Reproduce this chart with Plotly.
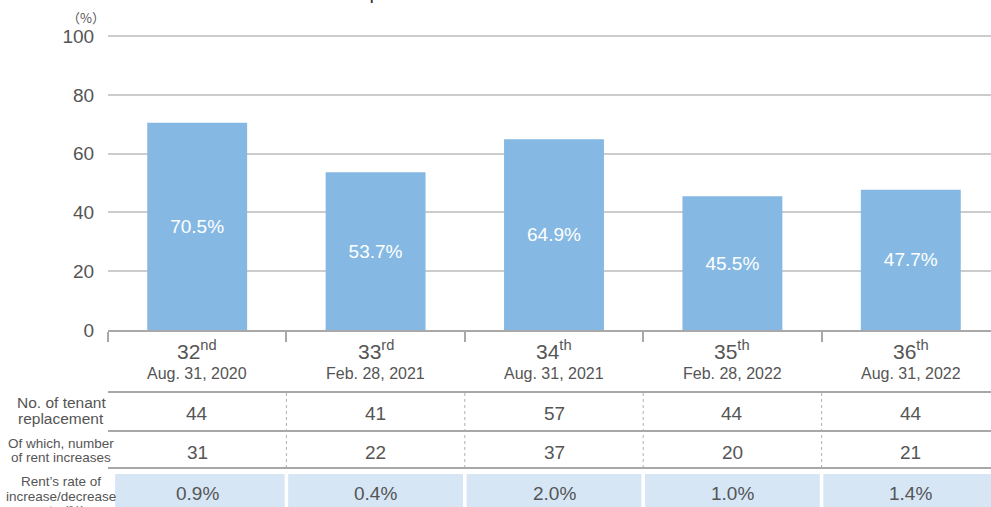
import plotly.graph_objects as go

# --- data -----------------------------------------------------------------
ordinals = ["32", "33", "34", "35", "36"]
suffixes = ["nd", "rd", "th", "th", "th"]
dates = ["Aug. 31, 2020", "Feb. 28, 2021", "Aug. 31, 2021", "Feb. 28, 2022", "Aug. 31, 2022"]
ratio_pct = [70.5, 53.7, 64.9, 45.5, 47.7]          # ratio of rent increase (%)
tenant_replacements = [44, 41, 57, 44, 44]
rent_increases = [31, 22, 37, 20, 21]
rent_rate_pct = [0.9, 0.4, 2.0, 1.0, 1.4]

title_text = "● Ratio of rent increase due to tenant replacements and rate of increase"

# --- styling ----------------------------------------------------------------
BAR = "#85b9e3"
CELL = "#d6e6f5"
TXT = "#555555"
GRID = "#cccccc"
RULE = "#a8a8a8"
FONT = "Liberation Sans, Arial, sans-serif"

W, H = 991, 507
TOP, BOTTOM, LEFT = 35, 330, 108


def py(pix):
    """pixel row -> paper y (paper 0/1 = bottom/top of the bar area)"""
    return (BOTTOM - pix) / (BOTTOM - TOP)


def px(pix):
    return (pix - LEFT) / (W - LEFT)


n = len(ratio_pct)
idx = list(range(n))
cats = [f"{o}{s}" for o, s in zip(ordinals, suffixes)]

fig = go.Figure()
fig.add_trace(go.Bar(
    x=cats, y=ratio_pct, width=0.56,
    marker=dict(color=BAR, line=dict(width=0)),
    text=[f"{v:.1f}%" for v in ratio_pct],
    textposition="inside", insidetextanchor="middle",
    textfont=dict(color="white", size=19, family=FONT),
    hoverinfo="skip",
))

ann = []
shapes = []


def note(x, y, text, size, xref="x", family=FONT, color=TXT, **kw):
    ann.append(dict(x=x, y=y, xref=xref, yref="paper", text=text, showarrow=False,
                    xanchor=kw.pop("xanchor", "center"), yanchor=kw.pop("yanchor", "middle"),
                    font=dict(size=size, color=color, family=family), **kw))


# category header (ordinal + date)
for i in idx:
    note(i, py(350), f"{ordinals[i]}<sup>{suffixes[i]}</sup>", 21)
    note(i, py(373), dates[i], 16)

# table rows
rows = [
    (tenant_replacements, lambda v: f"{v}", py(413)),
    (rent_increases, lambda v: f"{v}", py(452)),
    (rent_rate_pct, lambda v: f"{v:.1f}%", py(493)),
]
for vals, fmt, yy in rows:
    for i in idx:
        note(i, yy, fmt(vals[i]), 19)

# row labels (one annotation per line for tight leading)
labels = [
    (["No. of tenant", "replacement"], [402, 418], 15.5),
    (["Of which, number", "of rent increases"], [443, 457], 13.5),
    (["Rent\u2019s rate of", "increase/decrease", "rate (%)"], [481, 496, 511], 13.5),
]
for lines, ys, fs in labels:
    for t, yy in zip(lines, ys):
        note(px(61), py(yy), t, fs, xref="paper")

# unit label and cut-off title
note(px(86), py(17), "\uff08%\uff09", 13, xref="paper", family="Noto Sans CJK JP, sans-serif")
note(px(14), py(5), title_text, 20, xref="paper", color="#333333",
     xanchor="left", yanchor="bottom")

# table cell backgrounds for the last row
for i in idx:
    shapes.append(dict(type="rect", xref="x", yref="paper",
                       x0=max(i - 0.49, -0.46), x1=i + 0.49, y0=py(474), y1=py(520),
                       fillcolor=CELL, line=dict(width=0), layer="below"))
# horizontal rules
for yy in (392, 431, 468):
    shapes.append(dict(type="line", xref="paper", yref="paper", x0=0, x1=1,
                       y0=py(yy), y1=py(yy), line=dict(color=RULE, width=2)))
# dotted column separators
for i in idx[1:]:
    shapes.append(dict(type="line", xref="x", yref="paper", x0=i - 0.5, x1=i - 0.5,
                       y0=py(393), y1=py(467), line=dict(color="#b0b0b0", width=1, dash="dot")))

fig.update_layout(
    width=W, height=H,
    margin=dict(l=LEFT, r=0, t=TOP, b=H - BOTTOM),
    plot_bgcolor="white", paper_bgcolor="white",
    showlegend=False,
    annotations=ann, shapes=shapes,
    font=dict(family=FONT, color=TXT),
)
fig.update_xaxes(
    type="category", categoryorder="array", categoryarray=cats,
    range=[-0.5, (W - LEFT) / 178.4 - 0.5],
    showticklabels=False, showgrid=False, zeroline=False,
    showline=True, linecolor=RULE, linewidth=2,
    ticks="outside", tickson="boundaries", ticklen=10, tickcolor=RULE, tickwidth=1.5,
)
fig.update_yaxes(
    range=[0, 100.4], tickvals=[0, 20, 40, 60, 80, 100],
    showgrid=True, gridcolor=GRID, gridwidth=1.5, zeroline=False,
    ticks="outside", ticklen=9, tickcolor="rgba(0,0,0,0)",
    tickfont=dict(size=19, color=TXT, family=FONT),
)

# page body has a default 8px margin; drop it so the figure sits at the corner
fig.write_html("out.html", config={"displayModeBar": False},
               post_script="document.body.style.margin='0';")
